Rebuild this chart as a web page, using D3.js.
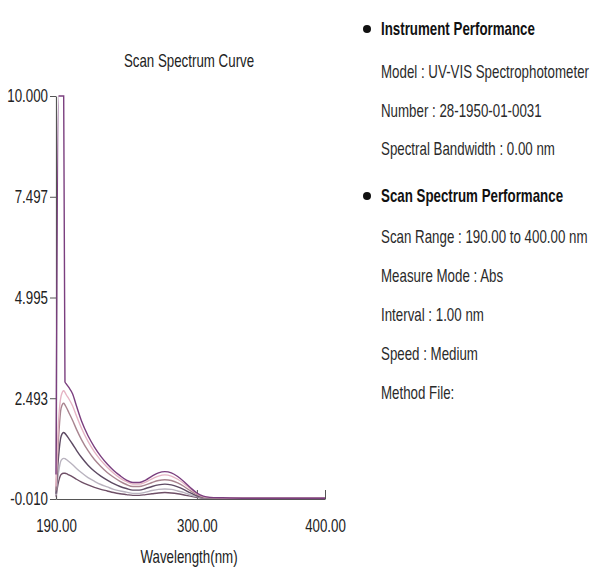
<!DOCTYPE html>
<html>
<head>
<meta charset="utf-8">
<script src="https://cdn.jsdelivr.net/npm/d3@7"></script>
<style>
  body { margin: 0; background: #fff; }
  svg { display: block; font-family: "Liberation Sans", Arial, sans-serif; font-size: 18px; }
</style>
</head>
<body>
<div id="chart"></div>
<script>
// wavelength sample points (nm)
const wavelengths = [190, 192, 194, 196, 197, 198, 200, 203, 206, 210, 215, 220, 225, 230, 235, 240, 245, 250, 255, 260, 265, 270, 275, 280, 285, 290, 295, 300, 305, 310, 320, 340, 360, 380, 400];

// absorbance of each scan
const scan1 = [0.60, 10.0, 10.0, 10.0, 2.90, 2.85, 2.76, 2.60, 2.30, 1.92, 1.56, 1.28, 1.05, 0.86, 0.70, 0.57, 0.46, 0.40, 0.40, 0.46, 0.56, 0.64, 0.67, 0.64, 0.55, 0.42, 0.27, 0.14, 0.06, 0.03, 0.02, 0.01, 0.01, 0.01, 0.01];
const scan2 = [0.30, 1.90, 2.55, 2.68, 2.64, 2.58, 2.48, 2.30, 2.05, 1.74, 1.42, 1.16, 0.95, 0.78, 0.63, 0.51, 0.42, 0.36, 0.36, 0.41, 0.49, 0.56, 0.59, 0.56, 0.48, 0.37, 0.24, 0.12, 0.05, 0.03, 0.02, 0.01, 0.01, 0.01, 0.01];
const scan3 = [0.20, 1.50, 2.25, 2.37, 2.33, 2.27, 2.14, 1.94, 1.72, 1.46, 1.19, 0.97, 0.80, 0.65, 0.53, 0.43, 0.35, 0.30, 0.30, 0.34, 0.40, 0.45, 0.47, 0.45, 0.39, 0.30, 0.19, 0.10, 0.04, 0.02, 0.01, 0.01, 0.01, 0.01, 0.01];
const scan4 = [0.12, 1.05, 1.55, 1.64, 1.62, 1.58, 1.49, 1.35, 1.20, 1.02, 0.83, 0.68, 0.56, 0.46, 0.37, 0.30, 0.25, 0.21, 0.21, 0.25, 0.30, 0.34, 0.36, 0.34, 0.29, 0.22, 0.14, 0.07, 0.03, 0.02, 0.01, 0.01, 0.01, 0.01, 0.01];
const scan5 = [0.08, 0.65, 0.95, 1.00, 0.99, 0.97, 0.92, 0.84, 0.75, 0.64, 0.52, 0.43, 0.35, 0.29, 0.23, 0.19, 0.16, 0.13, 0.13, 0.16, 0.20, 0.23, 0.24, 0.23, 0.19, 0.15, 0.09, 0.05, 0.02, 0.01, 0.01, 0.01, 0.01, 0.01, 0.01];
const scan6 = [0.05, 0.42, 0.60, 0.63, 0.63, 0.62, 0.59, 0.54, 0.48, 0.41, 0.34, 0.28, 0.23, 0.19, 0.15, 0.12, 0.10, 0.08, 0.08, 0.10, 0.12, 0.14, 0.15, 0.14, 0.12, 0.09, 0.06, 0.03, 0.01, 0.01, 0.00, 0.00, 0.00, 0.00, 0.00];

const scans = [scan6, scan5, scan4, scan3, scan2, scan1];
const scanColors = ["#6e4f66", "#b9b3bf", "#5d4a63", "#a98590", "#e6b4c4", "#7b3f7f"];

const xTicks = [190, 300, 400];
const yTicks = [10.000, 7.497, 4.995, 2.493, -0.010];

const infoHeaders = ["Instrument Performance", "Scan Spectrum Performance"];
const infoInstrument = ["Model : UV-VIS Spectrophotometer", "Number : 28-1950-01-0031", "Spectral Bandwidth : 0.00 nm"];
const infoScan = ["Scan Range : 190.00 to 400.00 nm", "Measure Mode : Abs", "Interval : 1.00 nm", "Speed : Medium", "Method File:"];

const width = 591, height = 572;
const SQUEEZE = 0.74; // the original uses a condensed face

const svg = d3.select("#chart")
  .append("svg")
  .attr("width", width)
  .attr("height", height);

const x = d3.scaleLinear().domain([190, 400]).range([56, 325]);
const y = d3.scaleLinear().domain([-0.010, 10.000]).range([499, 96]);

// axes
const yAxis = svg.append("g")
  .attr("transform", "translate(56,0)")
  .call(d3.axisLeft(y).tickValues(yTicks).tickFormat(d => d.toFixed(3)).tickSize(6).tickSizeOuter(0));

const xAxis = svg.append("g")
  .attr("transform", `translate(0,${y(-0.010)})`)
  .call(d3.axisBottom(x).tickValues(xTicks).tickFormat(d => d.toFixed(2)).tickSize(-9).tickSizeOuter(0));

[yAxis, xAxis].forEach(g => {
  g.attr("font-family", null).attr("font-size", null);
  g.select(".domain").attr("stroke", "#555").attr("stroke-width", 1.2);
  g.selectAll(".tick line").attr("stroke", "#555");
  g.selectAll("text").attr("fill", "#222");
});
yAxis.selectAll("text")
  .attr("x", -8 / SQUEEZE)
  .attr("transform", `scale(${SQUEEZE},1)`);
xAxis.selectAll("text")
  .attr("y", 20).attr("dy", "0.71em")
  .attr("transform", `scale(${SQUEEZE},1)`);
xAxis.select(".tick:first-of-type line").remove();

// spectra
const line = d3.line()
  .x((d, i) => x(wavelengths[i]))
  .y(d => y(d))
  .curve(d3.curveMonotoneX);

svg.append("g")
  .selectAll("path")
  .data(scans)
  .enter()
  .append("path")
  .attr("d", line)
  .attr("fill", "none")
  .attr("stroke", (d, i) => scanColors[i])
  .attr("stroke-width", 1.4);

// titles
function label(tx, ty, txt, anchor) {
  return svg.append("text")
    .attr("transform", `translate(${tx},${ty}) scale(${SQUEEZE},1)`)
    .attr("dy", "0.35em")
    .attr("text-anchor", anchor)
    .attr("fill", "#222")
    .text(txt);
}
label(189, 61, "Scan Spectrum Curve", "middle");
label(189, 557, "Wavelength(nm)", "middle");

// info panel on the right
const rows = [
  { text: infoHeaders[0], head: true, y: 29 },
  ...infoInstrument.map((t, i) => ({ text: t, head: false, y: 72 + i * 38.5 })),
  { text: infoHeaders[1], head: true, y: 196 },
  ...infoScan.map((t, i) => ({ text: t, head: false, y: 237 + i * 39 }))
];

svg.append("g")
  .selectAll("circle")
  .data(rows.filter(r => r.head))
  .enter()
  .append("circle")
  .attr("cx", 367).attr("cy", d => d.y)
  .attr("r", 4)
  .attr("fill", "#111");

rows.forEach(r => {
  label(381, r.y, r.text, "start")
    .attr("fill", r.head ? "#111" : "#2a2a2a")
    .style("font-weight", r.head ? "bold" : "normal");
});
</script>
</body>
</html>
